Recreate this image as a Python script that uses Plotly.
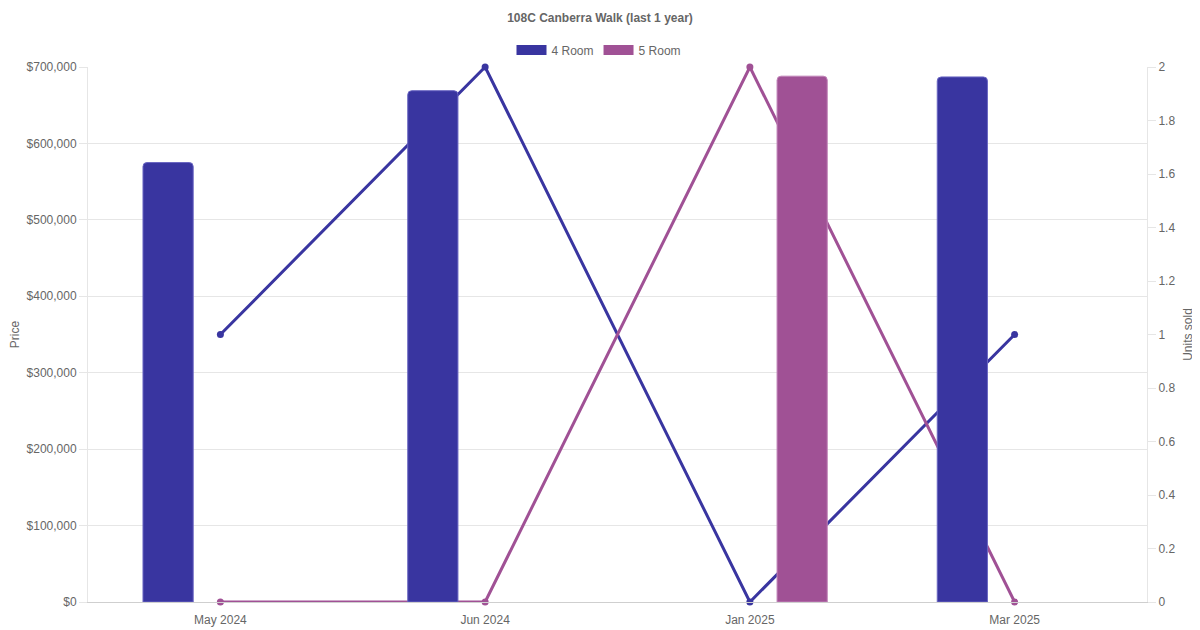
import plotly.graph_objs as go

# months shown on the x axis
months = ["May 2024", "Jun 2024", "Jan 2025", "Mar 2025"]

# average price per flat type (None = no sale that month)
price_4room = [575000, 669000, None, 687000]
price_5room = [None, None, 688000, None]

# units sold per flat type
units_4room = [1, 2, 0, 1]
units_5room = [0, 0, 2, 0]

series_names = ["4 Room", "5 Room"]

color_4room = "#3935a0"
color_5room = "#a05195"
text_color = "#666666"
grid_color = "#e6e6e6"

fig = go.Figure()

########## lines (units sold) on the primary axis so they sit behind the bars ##########
for name, units, color in zip(series_names, [units_4room, units_5room], [color_4room, color_5room]):
    fig.add_trace(
        go.Scatter(
            x=months,
            y=units,
            mode="lines+markers",
            name=name,
            line=dict(color=color, width=3),
            marker=dict(size=7, color=color),
            showlegend=False,
            cliponaxis=False,
            yaxis="y",
        )
    )

########## bars (price) on the overlaying axis ##########
fig.add_trace(
    go.Bar(
        x=months,
        y=price_4room,
        name="4 Room",
        marker=dict(color=color_4room, line=dict(color="#6a66c2", width=1)),
        showlegend=False,
        yaxis="y2",
    )
)
fig.add_trace(
    go.Bar(
        x=months,
        y=price_5room,
        name="5 Room",
        marker=dict(color=color_5room, line=dict(color="#c184b8", width=1)),
        showlegend=False,
        yaxis="y2",
    )
)

# legend-only entries, drawn as wide boxes like the original legend
for name, color in zip(series_names, [color_4room, color_5room]):
    fig.add_trace(
        go.Scatter(
            x=[None],
            y=[None],
            mode="lines",
            name=name,
            line=dict(color=color, width=12),
            yaxis="y",
        )
    )

# the page adds an 8px body margin, so the figure is shifted by that much
fig.update_layout(
    width=1200,
    height=630,
    margin=dict(l=80, r=61, t=59, b=36, autoexpand=False),
    paper_bgcolor="white",
    plot_bgcolor="white",
    font=dict(family="Liberation Sans, Arial, sans-serif", size=12, color=text_color),
    title=dict(
        text="<b>108C Canberra Walk (last 1 year)</b>",
        x=592 / 1200,
        xref="container",
        xanchor="center",
        y=1 - 10 / 630,
        yref="container",
        yanchor="middle",
        font=dict(size=12, color=text_color),
    ),
    legend=dict(
        orientation="h",
        x=591 / 1200,
        xref="container",
        xanchor="center",
        y=1 - 42 / 630,
        yref="container",
        yanchor="middle",
        font=dict(size=12, color=text_color),
    ),
    barmode="group",
    bargap=0.21,
    bargroupgap=0.52,
    barcornerradius=4,
    xaxis=dict(
        type="category",
        showgrid=False,
        showline=True,
        linecolor="#cfcfcf",
        linewidth=1,
        ticks="outside",
        ticklen=7,
        tickcolor="rgba(0,0,0,0)",
        tickfont=dict(size=12, color=text_color),
        zeroline=False,
    ),
    yaxis=dict(
        title=dict(text="Units sold", font=dict(size=12, color=text_color), standoff=9),
        side="right",
        range=[0, 2],
        dtick=0.2,
        showgrid=False,
        zeroline=False,
        showline=True,
        linecolor=grid_color,
        ticks="outside",
        ticklen=8,
        tickcolor=grid_color,
        color=text_color,
        tickfont=dict(size=12, color=text_color),
    ),
    yaxis2=dict(
        title=dict(text="Price", font=dict(size=12, color=text_color), standoff=8),
        side="left",
        overlaying="y",
        range=[0, 700000],
        dtick=100000,
        tickprefix="$",
        tickformat=",",
        showgrid=True,
        gridcolor=grid_color,
        zeroline=False,
        showline=True,
        linecolor=grid_color,
        ticks="outside",
        ticklen=8,
        tickcolor=grid_color,
        color=text_color,
        tickfont=dict(size=12, color=text_color),
    ),
)

fig.write_html("out.html")
